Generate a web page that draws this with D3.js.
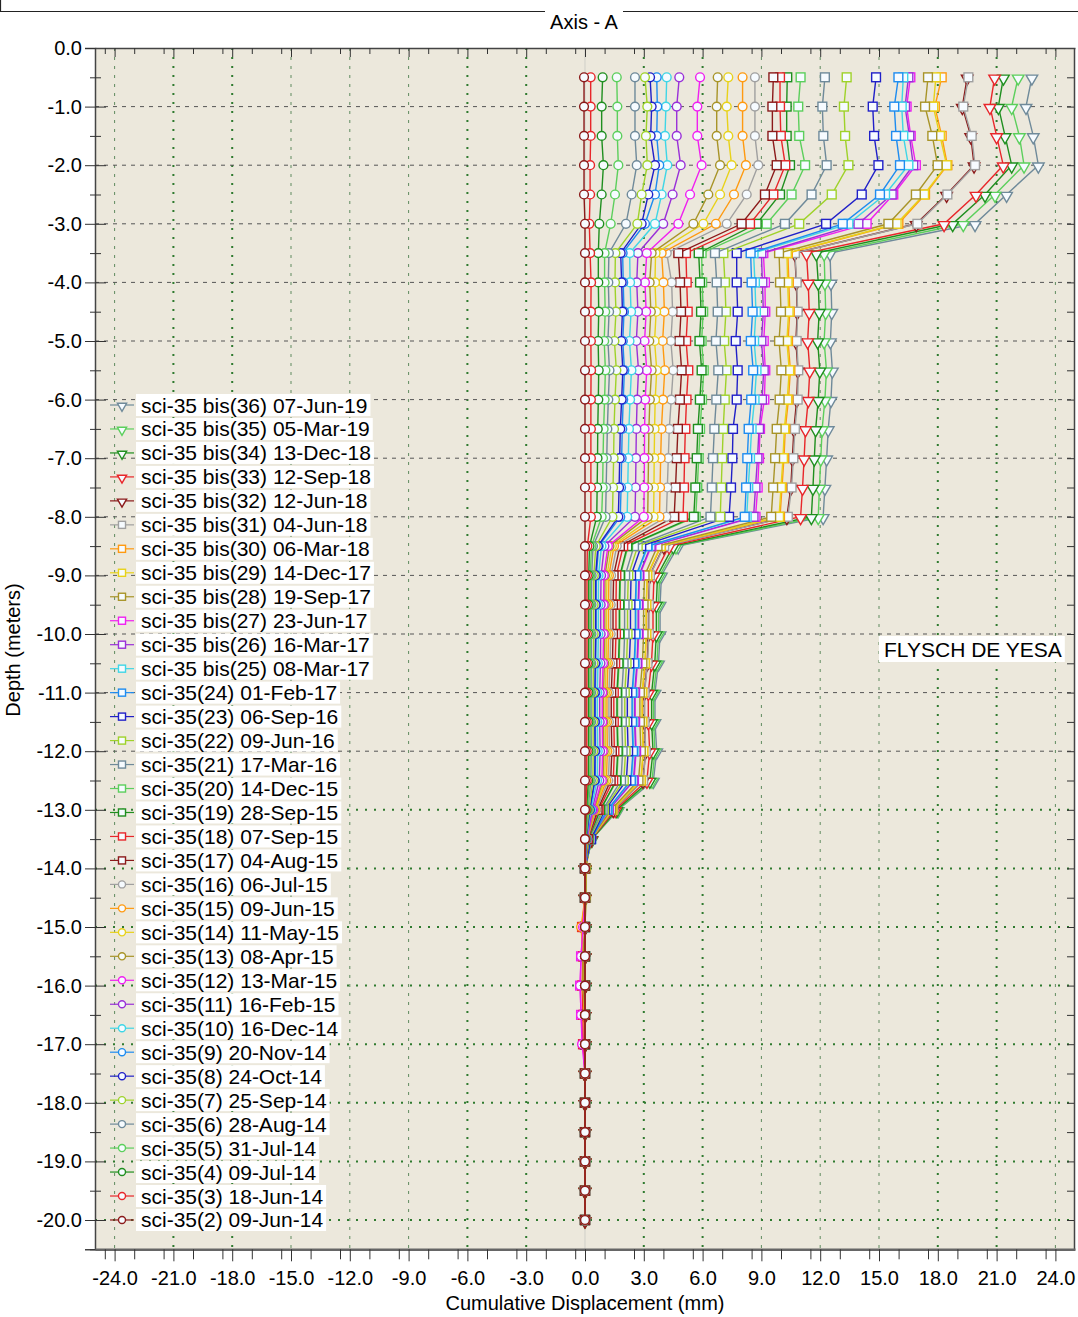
<!DOCTYPE html>
<html><head><meta charset="utf-8">
<script src="https://cdn.jsdelivr.net/npm/d3@7"></script>
<style>
body{margin:0;background:#fff}
svg{display:block}
text{font-family:"Liberation Sans",Arial,sans-serif}
</style>
</head><body><svg id="c" width="1078" height="1317"></svg>
<script>
const depths = [-0.5,-1.0,-1.5,-2.0,-2.5,-3.0,-3.5,-4.0,-4.5,-5.0,-5.5,-6.0,-6.5,-7.0,-7.5,-8.0,-8.5,-9.0,-9.5,-10.0,-10.5,-11.0,-11.5,-12.0,-12.5,-13.0,-13.5,-14.0,-14.5,-15.0,-15.5,-16.0,-16.5,-17.0,-17.5,-18.0,-18.5,-19.0,-19.5,-20.0];
const xTickValues = [-24,-21,-18,-15,-12,-9,-6,-3,0,3,6,9,12,15,18,21,24];
const yTickValues = [0,-1,-2,-3,-4,-5,-6,-7,-8,-9,-10,-11,-12,-13,-14,-15,-16,-17,-18,-19,-20];

const seriesLabels = [
"sci-35(2) 09-Jun-14","sci-35(3) 18-Jun-14","sci-35(4) 09-Jul-14","sci-35(5) 31-Jul-14","sci-35(6) 28-Aug-14",
"sci-35(7) 25-Sep-14","sci-35(8) 24-Oct-14","sci-35(9) 20-Nov-14","sci-35(10) 16-Dec-14","sci-35(11) 16-Feb-15",
"sci-35(12) 13-Mar-15","sci-35(13) 08-Apr-15","sci-35(14) 11-May-15","sci-35(15) 09-Jun-15","sci-35(16) 06-Jul-15",
"sci-35(17) 04-Aug-15","sci-35(18) 07-Sep-15","sci-35(19) 28-Sep-15","sci-35(20) 14-Dec-15","sci-35(21) 17-Mar-16",
"sci-35(22) 09-Jun-16","sci-35(23) 06-Sep-16","sci-35(24) 01-Feb-17","sci-35 bis(25) 08-Mar-17","sci-35 bis(26) 16-Mar-17",
"sci-35 bis(27) 23-Jun-17","sci-35 bis(28) 19-Sep-17","sci-35 bis(29) 14-Dec-17","sci-35 bis(30) 06-Mar-18","sci-35 bis(31) 04-Jun-18",
"sci-35 bis(32) 12-Jun-18","sci-35 bis(33) 12-Sep-18","sci-35 bis(34) 13-Dec-18","sci-35 bis(35) 05-Mar-19","sci-35 bis(36) 07-Jun-19"];
const palette = ["#8b1a1a","#e8262a","#1f8f1f","#5ccf5c","#6f8a9a","#9fd22a","#2020c8","#1e8cf0","#3fd6e6","#9a30d8","#f020f0","#a89428","#e8d21a","#ff9a10","#a0a0a0"];
const seriesColors = [
palette[0],palette[1],palette[2],palette[3],palette[4],palette[5],palette[6],palette[7],palette[8],palette[9],palette[10],palette[11],palette[12],palette[13],palette[14],
palette[0],palette[1],palette[2],palette[3],palette[4],palette[5],palette[6],palette[7],palette[8],palette[9],palette[10],palette[11],palette[12],palette[13],palette[14],
palette[0],palette[1],palette[2],palette[3],palette[4]];
const seriesShapes = [
"circle","circle","circle","circle","circle","circle","circle","circle","circle","circle","circle","circle","circle","circle","circle",
"square","square","square","square","square","square","square","square","square","square","square","square","square","square","square",
"triangle","triangle","triangle","triangle","triangle"];

const s02 = [-0.05,-0.05,-0.05,-0.05,-0.05,0, 0,0,0,0,0,0,0,0,0,0, 0, 0,0,0,0,0,0,0,0, 0,0, 0,0,0,0,0,0,0,0,0,0,0,0,0];
const s03 = [0.29,0.29,0.29,0.26,0.26,0.22, 0.26,0.31,0.3,0.3,0.31,0.3,0.3,0.3,0.3,0.3, 0.12, 0.1,0.1,0.1,0.1,0.09,0.09,0.09,0.09, 0.04,0.01, 0,0,0,0,0,0,0,0,0,0,0,0,0];
const s04 = [0.9,0.85,0.85,0.94,0.85,0.73, 0.68,0.68,0.7,0.67,0.7,0.68,0.65,0.64,0.62,0.6, 0.23, 0.19,0.19,0.19,0.18,0.18,0.18,0.18,0.17, 0.08,0.02, 0,0,0,0,0,0,0,0,0,0,0,0,0];
const s05 = [1.62,1.65,1.65,1.7,1.53,1.31, 1.0,1.0,1.03,0.98,1.04,1.0,0.95,0.92,0.9,0.85, 0.33, 0.27,0.27,0.27,0.26,0.25,0.25,0.26,0.24, 0.12,0.03, 0,0,0,0,0,0,0,0,0,0,0,0,0];
const s06 = [2.55,2.55,2.55,2.64,2.38,2.09, 1.22,1.19,1.23,1.17,1.25,1.19,1.14,1.11,1.08,1.05, 0.41, 0.34,0.33,0.33,0.32,0.31,0.31,0.32,0.3, 0.15,0.03, 0,0,0,0,0,0,0,0,0,0,0,0,0];
const s07 = [3.06,3.18,3.11,3.18,2.89,2.67, 1.55,1.53,1.58,1.5,1.6,1.53,1.48,1.46,1.43,1.4, 0.55, 0.45,0.44,0.44,0.43,0.41,0.41,0.42,0.4, 0.2,0.04, 0,0,0,0,0,0,0,0,0,0,0,0,0];
const s08 = [3.32,3.4,3.35,3.57,3.23,2.89, 1.82,1.87,1.91,1.85,1.93,1.87,1.8,1.77,1.74,1.7, 0.66, 0.54,0.54,0.54,0.52,0.5,0.5,0.51,0.49, 0.24,0.06, 0,0,0,0,0,0,0,0,0,0,0,0,0];
const s09 = [3.66,3.69,3.66,3.79,3.57,3.06, 1.92,1.95,1.99,1.93,2.01,1.95,1.9,1.87,1.84,1.8, 0.7, 0.58,0.57,0.57,0.55,0.53,0.53,0.54,0.52, 0.25,0.06, 0,0,0,0,0,0,0,0,0,0,0,0,0];
const s10 = [4.17,4.13,4.08,4.2,3.91,3.57, 2.28,2.3,2.35,2.27,2.37,2.3,2.24,2.21,2.18,2.15, 0.84, 0.69,0.68,0.68,0.66,0.63,0.63,0.65,0.62, 0.3,0.07, 0,0,0,0,0,0,0,0,0,0,0,0,0];
const s11 = [4.81,4.68,4.68,4.88,4.47,3.99, 2.7,2.64,2.7,2.62,2.73,2.66,2.62,2.6,2.58,2.55, 0.99, 0.82,0.8,0.8,0.79,0.75,0.75,0.77,0.73, 0.36,0.08, 0,0,0,0,0,0,0,0,0,0,0,0,0];
const s12 = [5.87,5.73,5.73,5.95,5.36,4.76, 3.15,3.06,3.12,3.04,3.15,3.07,3.04,3.03,3.02,3.0, 1.17, 0.96,0.95,0.95,0.92,0.88,0.88,0.9,0.86, 0.42,0.09, 0,0,-0.1,-0.2,-0.25,-0.2,-0.15,0,0,0,0,0,0];
const s13 = [6.77,6.72,6.72,6.89,6.29,5.53, 3.4,3.3,3.36,3.28,3.4,3.31,3.26,3.24,3.22,3.2, 1.25, 1.02,1.01,1.01,0.99,0.94,0.94,0.96,0.92, 0.45,0.1, 0.05,0.05,0,-0.1,-0.1,0,0,0,0,0,0,0,0];
const s14 = [7.31,7.23,7.31,7.48,6.89,6.04, 3.6,3.57,3.63,3.55,3.66,3.58,3.55,3.53,3.52,3.5, 1.37, 1.12,1.1,1.1,1.08,1.03,1.03,1.05,1.0, 0.49,0.1, 0.05,0,0,0,-0.1,0,0,0,0,0,0,0,0];
const s15 = [8.04,8.04,8.04,8.21,7.6,6.68, 3.91,4.0,4.05,3.96,4.07,3.98,3.9,3.86,3.83,3.8, 1.48, 1.22,1.2,1.2,1.17,1.12,1.12,1.14,1.09, 0.53,0.11, 0,0,-0.2,-0.1,-0.1,-0.05,0,0,0,0,0,0,0];
const s16 = [8.67,8.67,8.67,8.84,8.25,7.23, 4.17,4.42,4.47,4.38,4.5,4.4,4.3,4.25,4.2,4.15, 1.62, 1.33,1.31,1.31,1.28,1.22,1.22,1.25,1.19, 0.58,0.12, 0,0,0,0,0,0,0,0,0,0,0,0,0];
const s17 = [9.61,9.56,9.56,9.78,9.18,7.99, 4.76,4.85,4.9,4.82,4.93,4.84,4.74,4.68,4.62,4.55, 1.78, 1.46,1.43,1.43,1.4,1.34,1.34,1.37,1.31, 0.64,0.14, 0,0,0,0,0,0,0,0,0,0,0,0,0];
const s18 = [9.95,9.95,9.99,10.22,9.61,8.42, 5.15,5.19,5.24,5.16,5.27,5.18,5.12,5.08,5.05,5.0, 1.95, 1.6,1.58,1.58,1.54,1.47,1.47,1.5,1.44, 0.7,0.15, 0,0,-0.15,-0.1,-0.15,-0.1,-0.1,0,0,0,0,0,0];
const s19 = [10.32,10.29,10.29,10.46,9.95,8.76, 5.8,5.87,5.92,5.84,5.95,5.86,5.76,5.7,5.63,5.55, 2.16, 1.78,1.75,1.75,1.71,1.63,1.63,1.67,1.59, 0.78,0.17, 0,0,0,0,0,0,0,0,0,0,0,0,0];
const s20 = [11.0,10.88,10.93,11.23,10.54,9.27, 5.95,5.98,6.03,5.95,6.06,5.97,5.87,5.8,5.73,5.65, 2.2, 1.81,1.78,1.78,1.74,1.66,1.66,1.7,1.62, 0.79,0.17, 0,0,0,0,0,0,0,0,0,0,0,0,0];
const s21 = [12.24,12.11,12.16,12.33,11.56,10.2, 6.63,6.72,6.77,6.68,6.8,6.7,6.6,6.53,6.47,6.4, 2.5, 2.05,2.02,2.02,1.97,1.88,1.88,1.92,1.84, 0.9,0.19, 0,0,0,0,0,0,0,0,0,0,0,0,0];
const s22 = [13.35,13.21,13.27,13.44,12.59,10.93, 7.06,7.14,7.19,7.1,7.22,7.13,7.05,7.0,6.95,6.9, 2.69, 2.21,2.17,2.17,2.12,2.03,2.03,2.07,1.98, 0.97,0.21, 0,0,0,0,0,0,0,0,0,0,0,0,0];
const s23 = [14.85,14.68,14.75,14.97,14.12,12.3, 7.74,7.74,7.79,7.69,7.79,7.74,7.55,7.52,7.45,7.35, 2.87, 2.35,2.32,2.32,2.26,2.16,2.16,2.2,2.11, 1.03,0.3, 0,0,0,0,0,0,0,0,0,0,0,0,0];
const s24 = [15.99,15.78,15.87,16.07,15.05,13.15, 8.45,8.5,8.55,8.46,8.58,8.48,8.35,8.28,8.22,8.15, 3.18, 2.61,2.57,2.57,2.51,2.4,2.4,2.45,2.34, 1.14,0.32, 0,0,0,0,0,0,0,0,0,0,0,0,0];
const s25 = [16.24,16.16,16.24,16.5,15.31,13.44, 8.6,8.67,8.72,8.63,8.75,8.65,8.5,8.42,8.33,8.25, 3.22, 2.64,2.6,2.6,2.54,2.43,2.43,2.48,2.37, 1.16,0.3, 0,0,0,0,0,0,0,0,0,0,0,0,0];
const s26 = [16.5,16.33,16.55,16.75,15.65,13.95, 9.0,9.05,9.1,9.0,9.12,9.03,8.88,8.8,8.7,8.6, 3.35, 2.75,2.71,2.71,2.65,2.53,2.53,2.58,2.47, 1.2,0.25, 0,0,0,0,0,0,0,0,0,0,0,0,0];
const s27 = [16.6,16.41,16.62,16.88,15.73,14.37, 9.1,9.18,9.2,9.12,9.2,9.15,8.93,8.88,8.81,8.7, 3.39, 2.78,2.74,2.74,2.68,2.56,2.56,2.61,2.5, 1.22,0.26, 0,0,-0.1,-0.2,-0.25,-0.2,-0.1,0,0,0,0,0,0];
const s28 = [17.5,17.35,17.72,17.99,16.88,15.48, 9.9,9.95,10.0,9.9,10.02,9.93,9.78,9.7,9.6,9.5, 3.7, 3.04,2.99,2.99,2.93,2.8,2.8,2.85,2.73, 1.33,0.28, 0.05,0.05,0,-0.1,-0.1,0,0,0,0,0,0,0,0];
const s29 = [17.9,17.77,18.11,18.45,17.3,15.9, 10.3,10.34,10.39,10.3,10.42,10.32,10.17,10.1,10.0,9.9, 3.86, 3.17,3.12,3.12,3.05,2.91,2.91,2.97,2.84, 1.39,0.3, 0.05,0,0,0,0,0,0,0,0,0,0,0,0];
const s30 = [18.2,17.85,18.2,18.49,17.35,15.99, 10.35,10.4,10.45,10.36,10.48,10.38,10.22,10.15,10.05,9.95, 3.88, 3.18,3.13,3.13,3.07,2.93,2.93,2.98,2.86, 1.4,0.3, 0,0,-0.15,-0.1,-0.1,0,0,0,0,0,0,0,0];
const s31 = [19.56,19.3,19.73,19.9,18.49,16.96, 10.71,10.8,10.85,10.8,10.88,10.85,10.71,10.63,10.54,10.35, 4.04, 3.31,3.26,3.26,3.19,3.04,3.04,3.1,2.97, 1.45,0.31, 0,0,0,0,0,0,0,0,0,0,0,0,0];
const s32 = [19.5,19.25,19.68,19.85,18.45,16.9, 10.7,10.78,10.83,10.76,10.86,10.8,10.66,10.58,10.5,10.3, 4.02, 3.3,3.24,3.24,3.17,3.03,3.03,3.09,2.96, 1.44,0.31, 0,0,0,0,0,0,0,0,0,0,0,0,0];
const s33 = [20.9,20.66,21.0,21.34,19.95,18.32, 11.3,11.39,11.44,11.36,11.47,11.39,11.25,11.18,11.1,11.0, 4.29, 3.52,3.47,3.47,3.39,3.23,3.23,3.3,3.16, 1.54,0.33, 0,0,0,0,0,0,0,0,0,0,0,0,0];
const s34 = [21.35,21.09,21.43,21.77,20.41,18.76, 11.8,11.9,11.95,11.87,11.98,11.9,11.77,11.7,11.63,11.55, 4.5, 3.7,3.64,3.64,3.56,3.4,3.4,3.47,3.31, 1.62,0.35, 0,0,0,0,0,0,0,0,0,0,0,0,0];
const s35 = [22.1,21.77,22.16,22.4,20.92,19.3, 12.2,12.24,12.28,12.2,12.32,12.24,12.1,12.03,11.96,11.9, 4.64, 3.81,3.75,3.75,3.67,3.5,3.5,3.57,3.42, 1.67,0.36, 0,0,0,0,0,0,0,0,0,0,0,0,0];
const s36 = [22.8,22.5,22.87,23.13,21.51,19.9, 12.5,12.55,12.59,12.52,12.62,12.55,12.41,12.33,12.24,12.15, 4.75, 3.9,3.83,3.83,3.75,3.57,3.57,3.66,3.49, 1.7,0.36, 0,0,0,0,0,0,0,0,0,0,0,0,0];
const seriesValues = [s02,s03,s04,s05,s06,s07,s08,s09,s10,s11,s12,s13,s14,s15,s16,s17,s18,s19,s20,s21,s22,s23,s24,s25,s26,s27,s28,s29,s30,s31,s32,s33,s34,s35,s36];

const svg = d3.select("#c");
const x = d3.scaleLinear().domain([-25, 25]).range([95, 1075]);
const y = d3.scaleLinear().domain([0, -20.5]).range([48, 1249.3]);
const fmt = d => (Math.abs(d) < 1e-9 ? 0 : d).toFixed(1);
const FONT = '"Liberation Sans",Arial,sans-serif';

// frame + title
svg.append("path").attr("d", "M0.5,0 V11.5 H545 M623,11.5 H1078").attr("stroke", "#222").attr("stroke-width", 1.2).attr("fill", "none");
svg.append("text").attr("x", 584).attr("y", 29).attr("text-anchor", "middle").attr("font-size", 20).text("Axis - A");

// plot background
svg.append("rect").attr("x", x(-25)).attr("y", y(0)).attr("width", x(25) - x(-25)).attr("height", y(-20.5) - y(0)).attr("fill", "#ece8dc");

// grid
const grid = svg.append("g");
const thickV = [-21, -18, -6, -3, 3, 6, 18, 21];
xTickValues.forEach(v => {
  const thick = thickV.includes(v);
  grid.append("line").attr("x1", x(v)).attr("x2", x(v)).attr("y1", y(0)).attr("y2", y(-20.5))
    .attr("stroke", v === 0 ? "#cfcfc8" : (thick ? "#2f7a2f" : "#5f8a5f"))
    .attr("stroke-width", v === 0 ? 1 : (thick ? 2 : 1))
    .attr("stroke-dasharray", v === 0 ? null : (thick ? "2,7" : "3,6"));
});
yTickValues.filter(v => v < 0).forEach(v => {
  const green = v <= -13;
  grid.append("line").attr("x1", x(-25)).attr("x2", x(25)).attr("y1", y(v)).attr("y2", y(v))
    .attr("stroke", green ? "#2f7a2f" : "#555")
    .attr("stroke-width", green ? 2 : 1)
    .attr("stroke-dasharray", green ? "2,7" : "4,5");
});

// axes
const halfY = d3.range(0, 42).map(i => -i * 0.5).filter(v => v >= -20.5);
const minorY = halfY.filter(v => Math.abs(v % 1) > 0.1);
const xMinor = d3.range(-49, 50, 3).map(v => v / 2).filter(v => v > -25 && v < 25);
const axisStyle = g => { g.select(".domain").attr("stroke", "#444").attr("stroke-width", 1.5); g.selectAll(".tick line").attr("stroke", "#333"); g.selectAll("text").attr("font-size", 20).attr("fill", "#000").attr("font-family", FONT); };

svg.append("g").attr("transform", `translate(${x(-25)},0)`)
  .call(d3.axisLeft(y).tickValues(yTickValues).tickFormat(fmt).tickSize(10).tickPadding(3)).call(axisStyle);
svg.append("g").attr("transform", `translate(${x(-25)},0)`)
  .call(d3.axisRight(y).tickValues(yTickValues).tickFormat("").tickSize(11)).call(axisStyle).select(".domain").remove();
svg.append("g").attr("transform", `translate(${x(-25)},0)`)
  .call(d3.axisLeft(y).tickValues(minorY).tickFormat("").tickSize(5)).call(axisStyle).select(".domain").remove();
svg.append("g").attr("transform", `translate(${x(-25)},0)`)
  .call(d3.axisRight(y).tickValues(minorY).tickFormat("").tickSize(6)).call(axisStyle).select(".domain").remove();
// right axis
svg.append("g").attr("transform", `translate(${x(25) - 1},0)`)
  .call(d3.axisLeft(y).tickValues(halfY).tickFormat("").tickSize(7).tickSizeOuter(0)).call(axisStyle);
// top axis
svg.append("g").attr("transform", `translate(0,${y(0)})`)
  .call(d3.axisBottom(x).tickValues(xTickValues).tickFormat("").tickSize(9).tickSizeOuter(0)).call(axisStyle);
svg.append("g").attr("transform", `translate(0,${y(0)})`)
  .call(d3.axisBottom(x).tickValues(xMinor.filter(v => Math.abs(v % 3) > 0.1)).tickFormat("").tickSize(6)).call(axisStyle).select(".domain").remove();
// bottom axis
svg.append("g").attr("transform", `translate(0,${y(-20.5)})`)
  .call(d3.axisBottom(x).tickValues(xTickValues).tickFormat(fmt).tickSize(12).tickSizeOuter(0).tickPadding(10)).call(axisStyle)
  .call(g => g.select(".domain").attr("stroke", "#666").attr("stroke-width", 2.5));
svg.append("g").attr("transform", `translate(0,${y(-20.5)})`)
  .call(d3.axisBottom(x).tickValues(xMinor.filter(v => Math.abs(v % 3) > 0.1)).tickFormat("").tickSize(10)).call(axisStyle).select(".domain").remove();

// axis titles
svg.append("text").attr("transform", "translate(20,650) rotate(-90)").attr("text-anchor", "middle").attr("font-size", 20).text("Depth (meters)");
svg.append("text").attr("x", 585).attr("y", 1310).attr("text-anchor", "middle").attr("font-size", 20).text("Cumulative Displacement (mm)");

// series
const line = d3.line().x(d => x(d[0])).y(d => y(d[1]));
const markerFill = "#f6fbff";
function drawMarker(g, shape, color, cx, cy, k) {
  k = k || 1;
  if (shape === "circle") {
    g.append("circle").attr("cx", cx).attr("cy", cy).attr("r", 4.4 * k).attr("fill", markerFill).attr("stroke", color).attr("stroke-width", 1.4);
  } else if (shape === "square") {
    const h = 4.4 * k;
    g.append("rect").attr("x", cx - h).attr("y", cy - h).attr("width", 2 * h).attr("height", 2 * h).attr("fill", markerFill).attr("stroke", color).attr("stroke-width", 1.4);
  } else {
    g.append("path").attr("d", d3.symbol(d3.symbolTriangle, 58 * k * k)()).attr("transform", `translate(${cx},${cy + 1.2 * k}) rotate(180)`)
      .attr("fill", markerFill).attr("stroke", color).attr("stroke-width", 1.4);
  }
}
const plotG = svg.append("g");
for (let s = seriesValues.length - 1; s >= 0; s--) {
  const pts = seriesValues[s].map((v, i) => [v, depths[i]]);
  const g = plotG.append("g");
  g.append("path").attr("d", line(pts)).attr("fill", "none").attr("stroke", seriesColors[s]).attr("stroke-width", 1.4);
  pts.forEach(p => drawMarker(g, seriesShapes[s], seriesColors[s], x(p[0]), y(p[1])));
}

// legend
const leg = svg.append("g");
for (let i = 0; i < seriesLabels.length; i++) {
  const s = seriesLabels.length - 1 - i;
  const ly = 405 + i * 23.97;
  const t = leg.append("text").attr("x", 141).attr("y", ly + 7.5).attr("font-size", 21).text(seriesLabels[s]);
  const w = t.node().getComputedTextLength();
  leg.insert("rect", "text").attr("x", 136).attr("y", ly - 11).attr("width", w + 8).attr("height", 22).attr("fill", "#fff");
  leg.append("line").attr("x1", 110).attr("x2", 134).attr("y1", ly).attr("y2", ly).attr("stroke", seriesColors[s]).attr("stroke-width", 1.2);
  drawMarker(leg, seriesShapes[s], seriesColors[s], 122, ly, 0.8);
}

// annotation
const ann = svg.append("g");
const at = ann.append("text").attr("x", 884).attr("y", 657).attr("font-size", 21).text("FLYSCH DE YESA");
const aw = at.node().getComputedTextLength();
ann.insert("rect", "text").attr("x", 879).attr("y", 636).attr("width", aw + 8).attr("height", 26).attr("fill", "#fff");
</script>
</body></html>
